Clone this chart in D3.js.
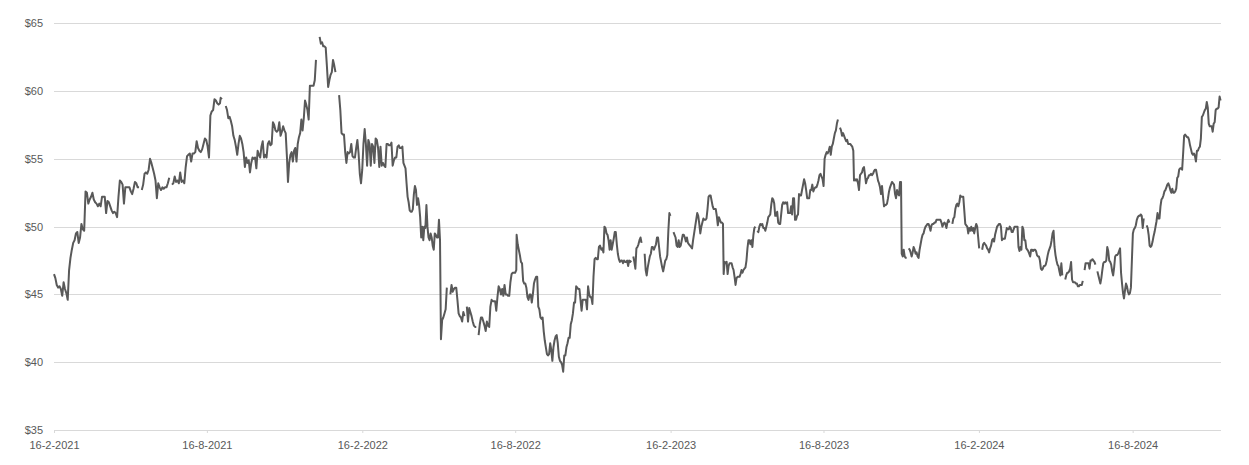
<!DOCTYPE html>
<html>
<head>
<meta charset="utf-8">
<script src="https://cdn.jsdelivr.net/npm/d3@7"></script>
<style>
  body { margin: 0; background: #fff; }
  svg { display: block; }
  text { font-family: "Liberation Sans", Arial, sans-serif; }
</style>
</head>
<body>
<svg id="chart" width="1249" height="465"></svg>
<script>
// first date of the series and last date on the axis
const startDate = "2021-02-16";
const axisEndDay = 1381.6;

// x labels
const tickDates = ["2021-02-16", "2021-08-16", "2022-02-16", "2022-08-16",
                   "2023-02-16", "2023-08-16", "2024-02-16", "2024-08-16"];
const tickLabels = ["16-2-2021", "16-8-2021", "16-2-2022", "16-8-2022",
                    "16-2-2023", "16-8-2023", "16-2-2024", "16-8-2024"];
const priceTicks = [35, 40, 45, 50, 55, 60, 65];

// each run of closing prices covers [runFirstDay, runLastDay] (days after startDate), null = no quote
const runFirstDay = [0, 197.3, 277.0, 411.2, 458.1, 547.7, 648.0, 792.8, 884.4, 947.1, 1003.6, 1121.1, 1220.1];
const runLastDay = [196.5, 275.8, 409.6, 457.0, 547.3, 646.4, 792.0, 883.2, 946.3, 1002.8, 1120.0, 1219.1, 1381.1];

const run2021a = [46.5, 46.2, 45.7, 45.5, 45.6, 45.4, 44.9, 45.9, 45.4, 45.1, 44.6, 46.8, 47.7, 48.3, 48.8, 49.0, 49.5, 49.6, 48.8, 49.2,
  50.2, 49.8, 49.7, 52.6, 52.5, 51.7, 52.0, 52.2, 52.5, 52.0, 51.8, 51.7, 51.5, 51.7, 51.5, 52.2, 52.2, 52.2, 51.0, 51.9,
  51.8, 51.5, 51.2, 51.0, 51.1, 51.0, 50.7, 52.2, 53.4, 53.3, 53.1, 51.7, 52.9, 52.9, 52.9, 52.9, 52.6, 52.4, 52.8, 53.3,
  53.2, 52.9, 52.9, null, 52.7, 53.1, 53.9, 54.0, 53.9, 54.2, 55.0, 54.7, 54.3, 53.9, 53.4, 52.1, 53.2, 52.9, 52.7, 52.9,
  52.8, 52.9, 52.9, 53.2, 53.6, null, 53.1, 53.2, 53.7, 53.3, 53.4, 53.2, 54.0, 53.3, 53.4, 53.2, 54.4, 55.2, 55.3, 55.4,
  54.8, 55.4, 55.4, 55.5, 56.3, 55.8, 55.6, 55.5, 55.7, 56.1, 56.5, 56.4, 55.9, 55.1, 58.2, 58.5, 58.6, 59.4, 59.3, 59.1,
  59.0, 59.1];
const run2021b = [59.5, 59.4, null, null, 58.9, 58.6, 58.0, 58.1, 57.8, 57.4, 56.7, 56.4, 55.9, 55.3, 56.1, 56.7, 56.5, 56.1, 55.5, 54.4,
  55.1, 54.7, 54.9, 54.0, 54.7, 55.1, 55.0, 55.1, 54.3, 55.6, 55.3, 55.1, 55.9, 56.3, 55.1, 55.3, 55.1, 56.1, 56.3, 56.0,
  56.1, 57.7, 57.5, 57.1, 57.0, 57.1, 57.7, 56.7, 57.0, 57.4, 57.1, 56.9, 55.1];
const run2021c = [53.3, 54.7, 55.3, 55.5, 54.8, 55.6, 55.8, 54.8, 56.1, 56.6, 56.9, 57.9, 57.1, 58.0, 59.3, 59.0, 58.6, 57.9, 60.4, 60.4,
  60.4, 60.4, 60.8, 62.3, null, null, 64.0, 63.5, 63.6, 63.3, 63.3, 63.2, 61.8, 60.3, 60.8, 61.2, 61.4, 62.3, 61.9, 61.4,
  null, null, 59.7, 58.6, 56.9, 56.8, 56.8, 55.5, 54.7, 55.5, 55.4, 55.5, 56.1, 55.2, 55.1, 55.1, 55.8, 56.4, 55.4, 53.9,
  53.2, 54.2, 56.1, 57.2, 56.1, 54.5, 56.4, 56.1, 54.5, 56.1, 55.9, 54.7, 56.5, 56.4, 55.8, 54.4, 55.9, 54.5, 54.7, 54.5,
  54.4, 56.1, 56.1, 56.0, 56.0, 56.2, 54.5, 54.9, 55.1, 55.1, 55.9, 56.0, 55.8];
const run2022a = [55.8, 55.9, 54.7, 54.5, 54.3, 53.2, 52.2, 51.8, 51.2, 51.1, 51.1, 51.3, 52.4, 53.0, 52.7, 51.6, 52.1, 51.6, 50.7, 49.2,
  50.0, 49.0, 50.0, 49.9, 51.6, 50.0, 49.2, 49.0, 49.5, 49.2, 48.6, 48.3, 49.5, 49.4, 49.2, 49.2, 50.5, 49.0];
const run2022b = [41.7, 43.1, 43.3, 43.6, 43.9, 45.5, null, null, 45.0, 45.7, 45.2, 45.4, 45.5, 45.5, 44.6, 43.6, 43.4, 43.3, 43.0, 43.7,
  43.4, null, 44.1, 43.0, 44.0, 43.7, 43.4, 43.0, 42.7, 42.6, 42.6, null, 42.0, 42.8, 43.3, 43.3, 43.0, 42.7, 42.3, 43.0,
  42.7, 42.6, 44.1, 44.6, 44.5, 44.5, 44.5, 43.8, 44.8, 45.6, 45.4, 45.0, 45.4, 44.9, 45.7, 45.0, 45.0, 44.9, 44.9, 45.9,
  46.5, 46.6, 46.6, 46.6, 46.8];
const run2022c = [49.4, 48.7, 48.3, 47.9, 47.4, 47.3, 46.0, 45.8, 45.8, 45.5, 44.8, 44.6, 45.0, 45.0, 44.4, 45.0, 45.8, 46.1, 46.3, 46.3,
  44.1, 43.9, 43.3, 43.2, 43.3, 42.3, 41.6, 41.1, 40.6, 40.5, 40.6, 41.4, 40.9, 40.1, 41.1, 41.6, 41.9, 42.0, 41.4, 40.4,
  40.1, 40.0, 39.8, 39.3, 40.5, 40.5, 41.1, 41.4, 41.8, 41.8, 42.8, 43.1, 43.6, 44.4, 44.4, 45.6, 45.5, 45.4, 45.4, 44.6,
  43.8, 44.6, 44.6, 44.6, 44.6, 43.9, 45.6, 45.0, 44.8, 44.8, 44.3, 46.3, 47.6, 47.7, 47.6, 47.6, 48.5, 48.6];
const run2023a = [48.3, 48.4, 48.1, 50.0, 49.9, 49.5, 49.4, 49.0, 48.3, 49.0, 48.3, 48.7, 49.1, 49.6, 49.6, 48.7, 48.0, 47.6, 47.4, 47.5,
  47.5, 47.3, 47.5, 47.4, 47.4, 47.5, 47.1, 47.5, 47.4, 47.5, null, 47.8, 47.4, 46.9, 48.4, 48.5, 48.7, 49.0, 49.2, 48.8,
  null, null, 48.0, 46.8, 46.4, 47.0, 47.4, 47.8, 48.0, 48.5, 48.5, 48.3, 48.5, 48.7, 49.2, 49.2, 48.5, 47.8, 47.4, 47.0,
  46.7, 47.1, 47.5, 47.6, 47.9, 49.7, 51.0, 50.8, null, null, 49.6, 49.4, 49.2, 48.6, 48.5, 49.0, 48.5, 48.6, 49.0, 49.4,
  49.4, 49.2, 48.9, 49.2, 48.8, 48.7, 48.6, 48.5, 48.4, 49.0, 49.5, 50.0, 50.5, 51.0, 50.8, 50.2, 49.5, 50.0, 50.3, 50.6,
  50.5, 50.5, 50.6, 51.3, 52.2, 52.3, 52.3, 51.9, 51.5, 51.3, 51.3, 51.3, 50.8, 50.1, 50.7, 50.5, 50.3, 50.3, 50.2];
const run2023b = [46.5, 47.4, 47.3, 47.4, 46.5, 47.1, 47.3, 47.3, 47.3, 47.0, 46.8, 46.3, 45.7, 46.2, 46.3, 46.3, 46.3, 46.5, 46.8, 46.6,
  46.8, 46.9, 47.0, 47.5, 48.4, 49.0, 49.0, 48.7, 49.0, 48.5, 49.4, 49.9, 50.0, null, 49.7, 49.6, 50.0, 50.2, 50.1, 50.2,
  49.9, 49.9, 49.7, 50.0, 50.3, 50.7, 50.8, 50.9, 51.6, 52.1, 52.0, 51.7, 50.8, 50.8, 51.1, 50.3, 50.2, 50.2, 50.9, 51.6,
  51.8, 51.7, 51.8, 51.7, 51.8, 51.0, 51.0, 51.0, 51.5, 50.9, 52.1, 52.1, 50.5, 50.5, 50.8, 50.9, 52.4, 52.3];
const run2023c = [52.3, 52.7, 53.1, 53.5, 53.2, 52.7, 52.1, 52.1, 52.1, 52.7, 52.7, 53.1, 52.6, 52.8, 52.9, 52.9, 53.1, 53.4, 53.8, 53.9,
  53.7, 53.5, 53.0, 55.0, 55.3, 55.5, 55.4, 55.6, 55.9, 55.3, 55.9, 56.1, 56.5, 56.9, 57.1, 57.6, 57.9, null, 57.3, 57.1,
  56.7, 56.9, 56.7, 56.5, 56.3, 56.4, 56.1, 56.1, 56.1, 56.0, 55.9, 55.6];
const run2023d = [53.4, 53.5, 53.4, 53.5, 53.2, 52.7, 53.8, 53.9, 54.0, 54.3, 54.4, 53.8, 53.2, 53.5, 53.6, 53.8, 53.8, 53.9, 53.8, 53.9,
  54.1, 54.2, 54.2, 53.8, 53.4, 53.2, 52.9, 52.4, 53.0, 52.2, 51.5, 51.6, 51.6, 51.7, 52.1, 52.6, 52.9, 53.1, 53.3, 53.2,
  53.1, 52.4, 52.1, 52.7, 52.4, 52.3, 53.3, 53.3];
const run2024a = [48.0, 47.8, 48.3, 47.8, 47.7, 47.7, null, 48.4, 48.3, 48.1, 47.8, 48.1, 48.5, 48.3, 48.0, 48.1, 47.8, 47.7, 48.3, 48.7,
  49.1, 49.4, 49.5, 49.8, 50.0, 50.1, 50.2, 50.2, 50.0, 49.7, 50.1, 50.2, 50.2, 50.3, 50.3, 50.5, 50.5, 50.5, 50.5, 50.5,
  50.3, 50.0, 50.2, 50.3, 50.2, 49.9, 50.3, 50.5, 50.3, null, null, 50.2, 50.6, 50.7, 51.3, 51.6, 51.7, 51.5, 51.8, 52.3,
  52.2, 52.2, 52.2, 51.2, 50.2, 50.1, 50.0, 49.5, 49.9, 49.7, 50.0, 49.7, 49.9, 49.5, 49.9, 50.2, 50.0, 49.2, 48.4, null,
  null, 48.3, 48.7, 48.8, 48.7, 48.6, 48.4, 48.3, 48.1, 48.4, 48.6, 49.0, 49.1, 48.9, 49.4, 49.7, 50.0, 50.1, 50.2, 50.2];
const run2024b = [50.0, 49.0, 49.1, 49.1, 49.1, 49.5, 49.9, 49.8, 49.8, 50.0, 49.9, 49.6, 49.6, 49.8, 50.0, 50.0, 50.0, 50.0, 48.5, 48.2,
  48.5, 48.3, 50.0, 49.8, 49.0, 49.0, 48.4, 48.3, 48.2, 48.0, 47.8, 48.3, 48.3, 48.2, 48.3, 48.3, 48.2, 47.9, 47.8, 47.8,
  47.5, 46.9, 46.8, 46.9, 47.1, 47.1, 47.2, 47.5, 47.9, 48.2, 48.4, 48.6, 49.0, 49.5, 49.7, 48.5, 47.9, 47.5, 47.2, 47.1,
  46.7, 46.4, 47.3, 46.4, null, null, 46.1, 46.4, 46.6, 46.6, 46.7, 46.9, 47.4, 46.1, 45.9, 45.9, 45.9, 45.8, 45.8, 45.6,
  45.6, 45.7, 45.7, 45.7, 46.0, null];
const run2024c = [46.8, 47.3, 47.3, 47.3, 47.3, 46.9, 47.5, 47.5, 47.6, 47.5, 47.4, 47.2, null, 46.7, 46.4, 46.1, 45.8, 46.2, 46.8, 47.3,
  47.4, 47.4, 47.5, 48.5, 48.2, 47.5, 47.4, 47.2, 46.7, 46.4, 47.0, 47.8, 47.9, 47.9, 48.0, 48.2, 48.4, 46.6, 45.8, 45.1,
  44.7, 45.3, 45.8, 45.6, 45.2, 45.0, 45.1, 45.5, 47.5, 49.5, 49.8, 49.9, 50.1, 50.5, 50.7, 50.8, 50.8, 50.9, 50.8, 49.9,
  50.6, null, null, 50.1, 49.9, 49.4, 48.6, 48.5, 48.6, 48.9, 49.3, 49.6, 50.0, 50.4, 51.0, 50.6, 50.6, 51.5, 52.0, 52.1,
  52.3, 52.6, 52.7, 52.9, 53.1, 53.2, 53.0, 52.7, 52.5, 52.8, 52.5, 52.5, 52.6, 52.8, 53.6, 53.7, 54.2, 54.3, 54.3, 54.2,
  55.4, 56.7, 56.8, 56.7, 56.6, 56.6, 56.4, 56.0, 55.7, 55.4, 55.3, 55.4, 55.2, 54.8, 55.6, 55.6, 55.8, 55.9, 56.5, 58.1,
  58.2, 58.4, 58.6, 58.7, 59.2, 58.8, 57.6, 57.4, 57.4, 57.4, 57.0, 57.6, 57.7, 58.6, 58.7, 58.7, 58.8, 59.6, 59.3];

const priceRuns = [run2021a, run2021b, run2021c, run2022a, run2022b, run2022c,
                   run2023a, run2023b, run2023c, run2023d, run2024a, run2024b, run2024c];

const DAY = 864e5;
const parseDay = d3.utcParse("%Y-%m-%d");
const t0 = parseDay(startDate).getTime();

const points = [];
priceRuns.forEach((run, r) => {
    const a = runFirstDay[r], b = runLastDay[r];
    run.forEach((v, i) => {
        const day = a + (b - a) * i / (run.length - 1);
        points.push({date: new Date(t0 + day * DAY), value: v});
    });
});

const svg = d3.select("#chart");
const plotLeft = 54, plotRight = 1221, plotTop = 23.3, plotBottom = 430;

const x = d3.scaleUtc()
    .domain([new Date(t0), new Date(t0 + axisEndDay * DAY)])
    .range([plotLeft, plotRight]);
const y = d3.scaleLinear().domain([35, 65]).range([plotBottom, plotTop]);

// gridlines
svg.append("g")
    .selectAll("line")
    .data(priceTicks)
    .join("line")
    .attr("x1", plotLeft).attr("x2", plotRight)
    .attr("y1", d => Math.round(y(d)) + 0.5).attr("y2", d => Math.round(y(d)) + 0.5)
    .attr("stroke", "#d9d9d9")
    .attr("stroke-width", 1);

// y labels
const yAxis = svg.append("g")
    .attr("transform", `translate(${plotLeft},0)`)
    .call(d3.axisLeft(y).tickValues(priceTicks).tickFormat(d => "$" + d).tickSize(0).tickPadding(11));
yAxis.select(".domain").remove();
yAxis.selectAll("text").attr("fill", "#595959").style("font-size", "11px");

// x labels
const xAxis = svg.append("g")
    .attr("transform", `translate(0,${plotBottom})`)
    .call(d3.axisBottom(x)
        .tickValues(tickDates.map(parseDay))
        .tickFormat((d, i) => tickLabels[i])
        .tickSize(3)
        .tickPadding(8));
xAxis.select(".domain").remove();
xAxis.selectAll(".tick line").attr("stroke", "#d9d9d9");
xAxis.selectAll("text").attr("fill", "#595959").style("font-size", "11px");

// price line
const line = d3.line()
    .defined(d => d.value != null)
    .x(d => x(d.date))
    .y(d => y(d.value));

svg.append("path")
    .datum(points)
    .attr("d", line)
    .attr("fill", "none")
    .attr("stroke", "#595959")
    .attr("stroke-width", 2)
    .attr("stroke-linejoin", "round");
</script>
</body>
</html>
